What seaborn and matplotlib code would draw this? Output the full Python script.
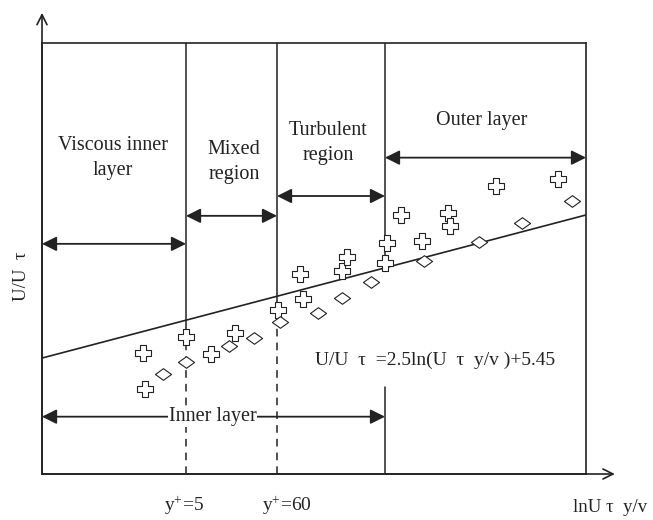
import numpy as np
import pandas as pd
import matplotlib
matplotlib.use("Agg")
import matplotlib.pyplot as plt
from matplotlib.path import Path
import seaborn as sns

# ---- data (arbitrary schematic units) ----
plus_x = [1.86, 1.89, 2.64, 3.11, 3.55, 4.33, 4.79, 4.74, 5.52, 5.60, 6.31, 6.34,
          6.60, 6.99, 7.46, 7.50, 8.35, 9.48]
plus_y = [2.80, 1.97, 3.19, 2.78, 3.26, 3.80, 4.05, 4.64, 4.72, 5.03, 4.89, 5.35,
          6.01, 5.41, 6.05, 5.76, 6.68, 6.85]
diam_x = [2.22, 2.65, 3.43, 3.90, 4.38, 5.08, 5.52, 6.05, 7.03, 8.04, 8.82, 9.74]
diam_y = [2.32, 2.59, 2.97, 3.16, 3.52, 3.74, 4.09, 4.46, 4.94, 5.39, 5.82, 6.34]
law_x = [0.0, 10.0]
law_y = [2.69, 6.01]
boundaries = [2.647, 4.32, 6.305, 10.0]
region_labels = ["Viscous inner\nlayer", "Mixed\nregion", "Turbulent\nregion", "Outer layer"]
equation = "U/U  \u03c4  =2.5ln(U  \u03c4  y/v )+5.45"
xlabel = "lnU \u03c4  y/v"
ylabel = "U/U  \u03c4"
ytick_labels = [r"y$^{+}$=5", r"y$^{+}$=60"]

sns.set_theme(style="white")
plt.rcParams["font.family"] = ["Liberation Serif", "DejaVu Serif"]
plt.rcParams["mathtext.fontset"] = "custom"
plt.rcParams["mathtext.rm"] = "Liberation Serif"
plt.rcParams["mathtext.it"] = "Liberation Serif"

fig = plt.figure(figsize=(6.53, 5.2), dpi=100)
ax = fig.add_axes([42/653, 46/520, 544/653, 431/520])
ax.set_xlim(0, 10)
ax.set_ylim(0, 10)
for s in ax.spines.values():
    s.set_color("#222222")
    s.set_linewidth(1.2)
ax.set_xticks([])
ax.set_yticks([])

K = "#222222"
FS = 14.5

# axis arrows
ax.annotate("", xy=(0, 1.07), xytext=(0, 0), xycoords="axes fraction",
            arrowprops=dict(arrowstyle="->", color=K, lw=1.2, mutation_scale=18,
                            shrinkA=0, shrinkB=0), annotation_clip=False)
ax.annotate("", xy=(1.053, 0), xytext=(0, 0), xycoords="axes fraction",
            arrowprops=dict(arrowstyle="->", color=K, lw=1.2, mutation_scale=18,
                            shrinkA=0, shrinkB=0), annotation_clip=False)

# region boundaries
b1, b2, b3, b4 = boundaries
ax.plot([b1, b1], [3.0, 10], color=K, lw=1.1)
ax.plot([b1, b1], [0, 3.0], color=K, lw=1.1, ls=(0, (5, 4)))
ax.plot([b2, b2], [3.92, 10], color=K, lw=1.1)
ax.plot([b2, b2], [0, 3.92], color=K, lw=1.1, ls=(0, (5, 4)))
ax.plot([b3, b3], [4.85, 10], color=K, lw=1.1)
ax.plot([b3, b3], [0, 2.02], color=K, lw=1.1)

# log-law line
sns.lineplot(x=law_x, y=law_y, ax=ax, color=K, lw=1.2)

# markers
plus_df = pd.DataFrame({"x": plus_x, "y": plus_y})
diam_df = pd.DataFrame({"x": diam_x, "y": diam_y})
diamond = Path([(-1, 0), (0, 0.72), (1, 0), (0, -0.72), (-1, 0)],
               [Path.MOVETO, Path.LINETO, Path.LINETO, Path.LINETO, Path.CLOSEPOLY])
sns.scatterplot(data=plus_df, x="x", y="y", ax=ax, marker="P", s=120,
                color="white", edgecolor=K, linewidth=0.8, zorder=3)
sns.scatterplot(data=diam_df, x="x", y="y", ax=ax, marker=diamond, s=135,
                color="white", edgecolor=K, linewidth=0.8, zorder=3)

# double arrows
def darrow(x0, x1, y):
    ax.annotate("", xy=(x1, y), xytext=(x0, y),
                arrowprops=dict(arrowstyle="<|-|>", color=K, lw=1.3,
                                mutation_scale=22, shrinkA=0, shrinkB=0,
                                facecolor=K))

darrow(0, b1, 5.34)
darrow(b1, b2, 5.99)
darrow(b2, b3, 6.45)
darrow(b3, b4, 7.34)
darrow(0, b3, 1.33)

ax.text(3.14, 1.33, "Inner layer", ha="center", va="center", fontsize=FS, color=K,
        bbox=dict(facecolor="white", edgecolor="none", pad=0.5), zorder=4)

ax.text(1.31, 7.33, region_labels[0], ha="center", va="center", fontsize=FS,
        color=K, linespacing=1.45)
ax.text(3.53, 7.24, region_labels[1], ha="center", va="center", fontsize=FS,
        color=K, linespacing=1.45)
ax.text(5.26, 7.68, region_labels[2], ha="center", va="center", fontsize=FS,
        color=K, linespacing=1.45)
ax.text(8.08, 8.21, region_labels[3], ha="center", va="center", fontsize=FS, color=K)

ax.text(7.22, 2.645, equation, ha="center", va="center", fontsize=14, color=K)

# axis labels as free text
fig.text(22/653, 1 - 276/520, ylabel, rotation=90, ha="center", va="center",
         fontsize=13.5, color=K)
fig.text(610/653, 1 - 508/520, xlabel, ha="center", va="center", fontsize=13.5, color=K)
fig.text(184/653, 1 - 506/520, ytick_labels[0], ha="center", va="center", fontsize=14, color=K)
fig.text(287/653, 1 - 506/520, ytick_labels[1], ha="center", va="center", fontsize=14, color=K)

fig.savefig("out.png", dpi=100)
